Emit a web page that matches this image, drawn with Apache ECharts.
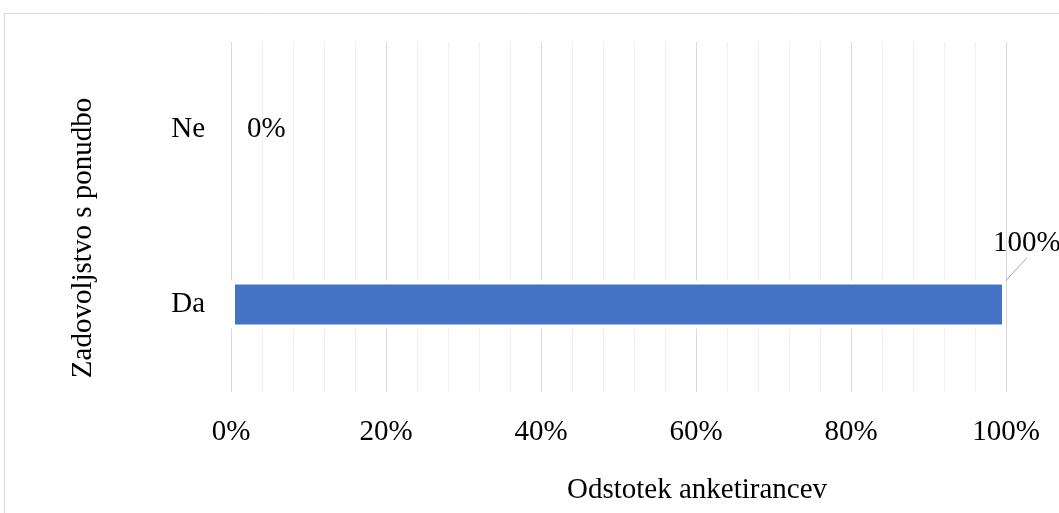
<!DOCTYPE html>
<html>
<head>
<meta charset="utf-8">
<script src="https://cdn.jsdelivr.net/npm/echarts@6/dist/echarts.min.js"></script>
<style>html,body{margin:0;padding:0;background:#fff}#c{width:1059px;height:513px}</style>
</head>
<body>
<div id="c"></div>
<script>
const categories = ['Da', 'Ne'];
const values = [100, 0];
const xTicks = [0, 20, 40, 60, 80, 100];
const xAxisTitle = 'Odstotek anketirancev';
const yAxisTitle = 'Zadovoljstvo s ponudbo';

const FONT = '"Liberation Serif", "Times New Roman", serif';
const FS = 29;
const chart = echarts.init(document.getElementById('c'), null, {renderer: 'canvas'});
chart.setOption({
  animation: false,
  backgroundColor: '#fff',
  grid: {left: 231, right: 53, top: 42, bottom: 121, containLabel: false},
  xAxis: {
    type: 'value', min: xTicks[0], max: xTicks[xTicks.length - 1], interval: 20,
    axisLine: {show: false}, axisTick: {show: false},
    axisLabel: {formatter: v => v + '%', fontFamily: FONT, fontSize: FS, color: '#000', margin: 26},
    splitLine: {show: true, lineStyle: {color: '#d9d9d9', width: 1}},
    minorTick: {show: false, splitNumber: 5},
    minorSplitLine: {show: true, lineStyle: {color: '#f0f0f0', width: 1}}
  },
  yAxis: {
    type: 'category', data: categories,
    axisLine: {show: false}, axisTick: {show: false},
    axisLabel: {fontFamily: FONT, fontSize: FS, color: '#000', margin: 26, padding: [4, 0, 0, 0]},
    splitLine: {show: false}
  },
  series: [{
    type: 'bar',
    data: values.map(v => ({
      value: v,
      itemStyle: {borderWidth: v > 0 ? 4 : 0},
      labelLine: {show: v > 0}
    })),
    barWidth: 48,
    itemStyle: {color: '#4472c4', borderColor: '#fff'},
    label: {
      show: true, position: 'right', distance: 16,
      formatter: p => p.value + '%',
      fontFamily: FONT, fontSize: FS, color: '#000', padding: [4, 0, 0, 0]
    },
    labelLayout: function (p) {
      if (p.dataIndex === 0) return {dx: -29, dy: -61};
      return {};
    },
    labelLine: {show: true, lineStyle: {color: '#a6a6a6', width: 1}}
  }],
  graphic: [
    {type: 'rect', shape: {x: 4.5, y: 13.5, width: 1200, height: 700}, style: {fill: null, stroke: '#d9d9d9', lineWidth: 1}, z: 100, silent: true},
    {type: 'text', x: 697, y: 490, style: {text: xAxisTitle, font: FS + 'px ' + FONT, fill: '#000', textAlign: 'center', textVerticalAlign: 'middle'}},
    {type: 'text', x: 83, y: 238, rotation: Math.PI / 2, style: {text: yAxisTitle, font: FS + 'px ' + FONT, fill: '#000', textAlign: 'center', textVerticalAlign: 'middle'}}
  ]
});
</script>
</body>
</html>
